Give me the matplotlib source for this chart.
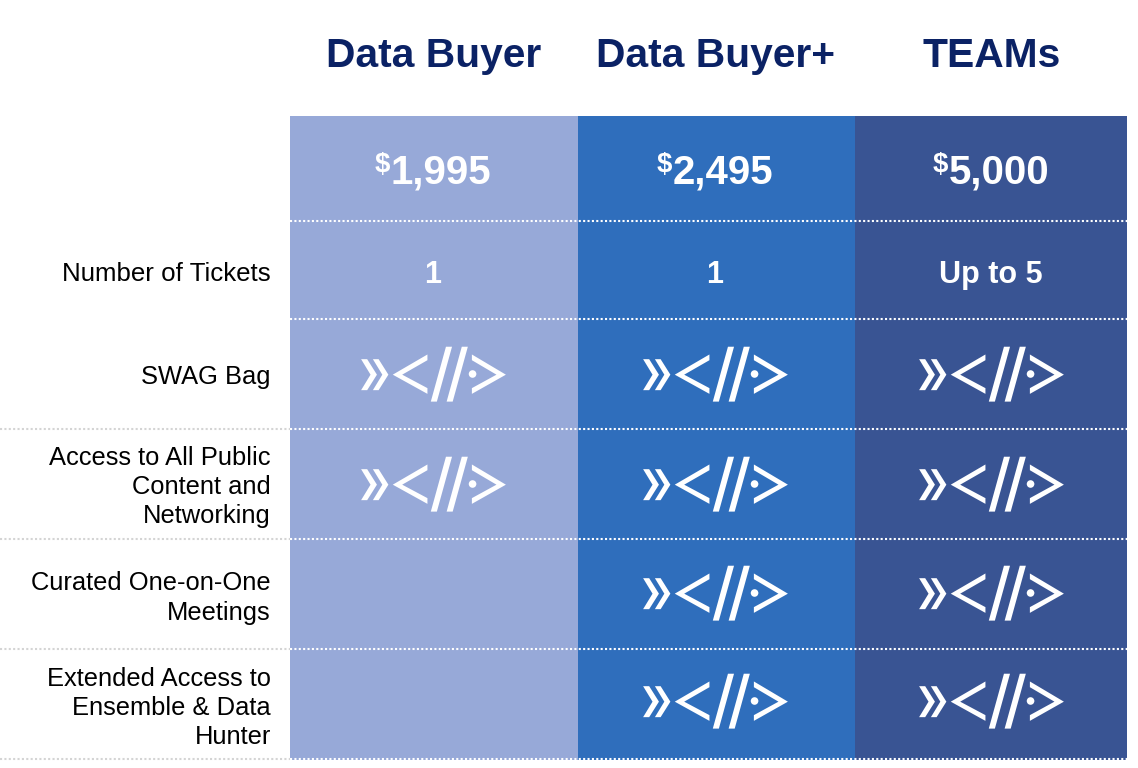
import matplotlib
matplotlib.use("Agg")
import matplotlib.pyplot as plt
from matplotlib.patches import Polygon, Circle, Rectangle

# ---- content ----
plans = ["Data Buyer", "Data Buyer+", "TEAMs"]
prices = ["1,995", "2,495", "5,000"]
tickets = ["1", "1", "Up to 5"]
ticket_label = "Number of Tickets"
features = ["SWAG Bag",
            "Access to All Public\nContent and\nNetworking",
            "Curated One-on-One\nMeetings",
            "Extended Access to\nEnsemble & Data\nHunter"]
included = [[True, True, True],
            [True, True, True],
            [False, True, True],
            [False, True, True]]

# ---- layout (pixels) ----
W, H = 1138, 768
col_edges = [290, 578, 855, 1127]
col_centers_text = [433, 715, 991]
col_colors = ["#97A9D8", "#2F6EBC", "#395493"]
row_lines = [221, 319, 429, 539, 649, 759]
icon_y = [374, 484, 593, 701]
label_y = [377, 487, 598, 708]
top, bottom = 116, 760
navy = "#0B2265"
FONT = "Liberation Sans"

fig = plt.figure(figsize=(W / 100, H / 100), dpi=100, facecolor="white")
ax = fig.add_axes([0, 0, 1, 1])
ax.set_xlim(0, W)
ax.set_ylim(H, 0)
ax.axis("off")

for i, c in enumerate(col_colors):
    ax.add_patch(Rectangle((col_edges[i], top), col_edges[i + 1] - col_edges[i],
                           bottom - top, fc=c, ec="none", zorder=1))

dots = (0, (1, 1.1))
for k, y in enumerate(row_lines):
    if k >= 2:
        ax.plot([0, col_edges[0]], [y, y], color="#D4D4D4", lw=1.5, ls=dots, zorder=2)
    ax.plot([col_edges[0], col_edges[-1]], [y, y], color="white", lw=1.5, ls=dots, zorder=2)

# Icon shape, in pixel offsets from its centre
def z(pts):
    return [((px - 283) / 2.97, (py - 101) / 2.97) for px, py in pts]

icon_shapes = [
    z([(68, 57), (86, 57), (115, 103), (86, 149), (68, 149), (96, 103)]),
    z([(103, 57), (120, 57), (149, 103), (120, 149), (103, 149), (131, 103)]),
    z([(162, 103), (265, 43), (265, 60), (190, 103), (265, 143), (265, 160)]),
    z([(320, 20), (338, 20), (293, 183), (275, 183)]),
    z([(367, 20), (385, 20), (340, 183), (322, 183)]),
    z([(397, 43), (498, 103), (397, 160), (397, 143), (470, 103), (397, 60)]),
]
dot_c = ((399 - 283) / 2.97, 0.0)

def draw_icon(cx, cy):
    for s in icon_shapes:
        ax.add_patch(Polygon([(cx + a, cy + b) for a, b in s], closed=True,
                             fc="white", ec="none", zorder=3))
    ax.add_patch(Circle((cx + dot_c[0], cy + dot_c[1]), 3.8, fc="white", ec="none", zorder=3))

# Headers
for cx, name in zip(col_centers_text, plans):
    ax.text(cx + 0.5, 56, name, ha="center", va="center", fontsize=29.3, fontweight="bold",
            color=navy, family=FONT)

# Prices
fig.canvas.draw()
r = fig.canvas.get_renderer()
for cx, p in zip(col_centers_text, prices):
    num = ax.text(cx, 173, p, ha="center", va="center", fontsize=29, fontweight="bold",
                  color="white", family=FONT, zorder=4)
    sym = ax.text(cx, 165, "$", ha="left", va="center", fontsize=20, fontweight="bold",
                  color="white", family=FONT, zorder=4)
    wn = num.get_window_extent(r).width
    ws = sym.get_window_extent(r).width
    total = wn + ws
    sym.set_x(cx - total / 2)
    num.set_x(cx - total / 2 + ws + wn / 2)

# Tickets row
ax.text(271, 274, ticket_label, ha="right", va="center", fontsize=18.6, color="black", family=FONT)
for cx, t in zip(col_centers_text, tickets):
    ax.text(cx, 275, t, ha="center", va="center", fontsize=22, fontweight="bold",
            color="white", family=FONT, zorder=4)

# Feature rows
for i, f in enumerate(features):
    ax.text(271, label_y[i], f, ha="right", va="center", fontsize=18.4,
            color="black", family=FONT, linespacing=1.28, multialignment="right")
    for j, flag in enumerate(included[i]):
        if flag:
            draw_icon(col_centers_text[j] + 0.5, icon_y[i])

fig.savefig("out.png", dpi=100, facecolor="white")
